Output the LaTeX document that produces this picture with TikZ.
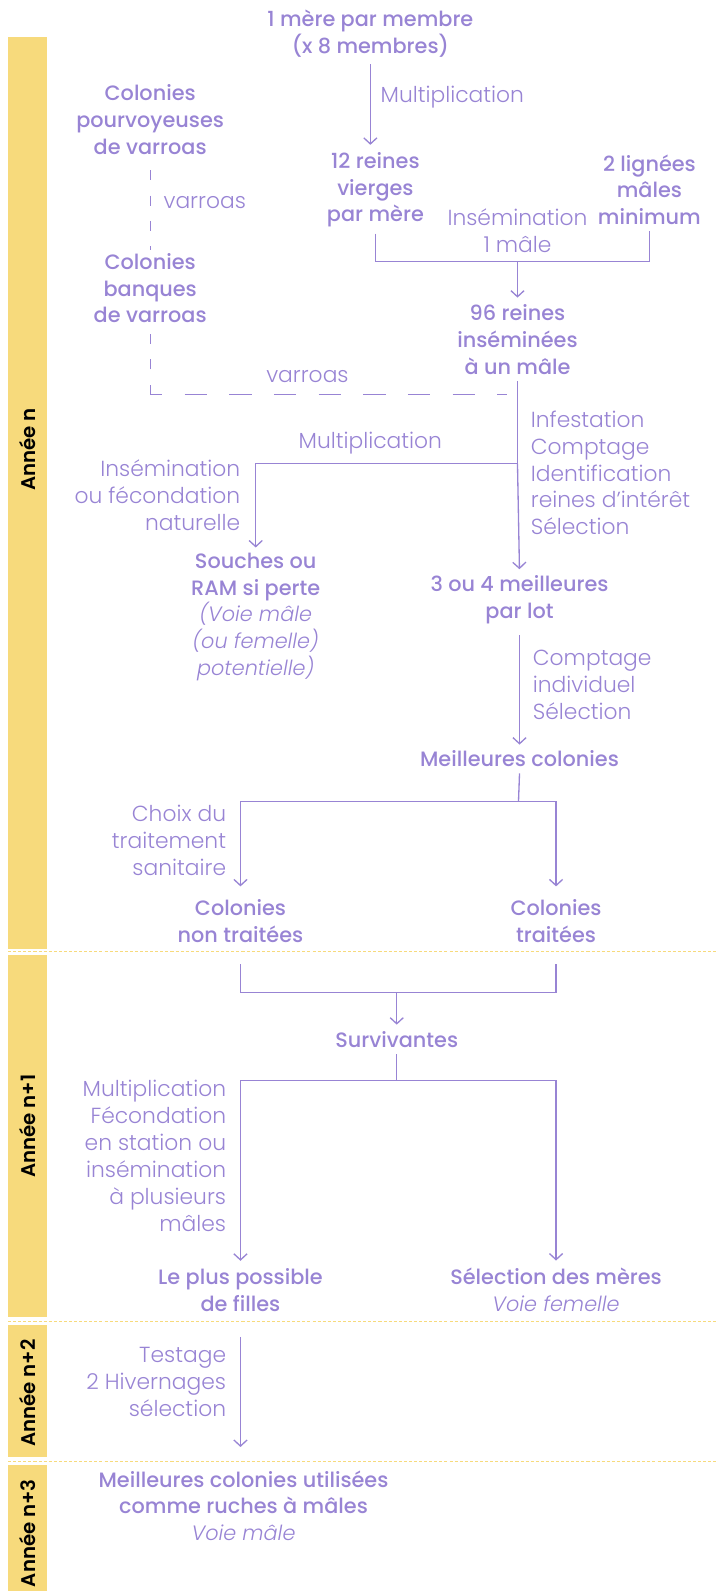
\documentclass[tikz,border=0pt]{standalone}
\usepackage{fontspec}
\setmainfont{Poppins Light}[BoldFont={Poppins Medium},ItalicFont={Poppins Light Italic}]
\newfontfamily\anneefont{Poppins SemiBold}
\usetikzlibrary{arrows.meta}
\definecolor{lila}{RGB}{152,132,212}
\definecolor{miel}{RGB}{247,218,124}
\begin{document}
\begin{tikzpicture}[x=1pt,y=-1pt,
  every node/.style={text=lila, inner sep=3pt, font=\fontsize{21.5}{26.5}\selectfont},
  head/.style={align=center, font=\fontsize{20.5}{26.5}\selectfont\bfseries},
  noteL/.style={align=left, anchor=west},
  noteR/.style={align=right, anchor=east},
  link/.style={draw=lila, line width=1.3pt},
  flow/.style={link, -{Straight Barb[length=6pt,width=13pt,line width=1.3pt]}},
  varroaV/.style={draw=lila, line width=1.3pt, dash pattern=on 10pt off 15pt},
  varroaH/.style={draw=lila, line width=1.3pt, dash pattern=on 22pt off 22pt, dash phase=10pt},
  annee/.style={rotate=90, text=black, font=\fontsize{19.5}{22}\anneefont},
  sep/.style={draw=miel, line width=1pt, dash pattern=on 3pt off 2pt}]
\useasboundingbox (0,0) rectangle (707,1568);
% bandes des annees
\fill[miel] (8,36) rectangle (46,935);
\fill[miel] (8,941) rectangle (46,1298);
\fill[miel] (8,1306) rectangle (46,1436);
\fill[miel] (8,1444) rectangle (46,1568);
\draw[sep] (8,938) -- (707,938);
\draw[sep] (8,1302) -- (707,1302);
\draw[sep] (8,1440) -- (707,1440);
\node[annee] (an0) at (27,443) {Année n};
\node[annee] (an1) at (27,1110) {Année n+1};
\node[annee] (an2) at (27,1373) {Année n+2};
\node[annee] (an3) at (27,1511) {Année n+3};

% noeuds
\node[head] (mere) at (365,33) {1 mère par membre\\(x 8 membres)};
\node[head] (vierges) at (370,187) {12 reines\\vierges\\par mère};
\node[align=center] (insem) at (510,227) {Insémination\\1 mâle};
\node[head] (lignees) at (640,187) {2 lignées\\mâles\\minimum};
\node[head] (pourv) at (148,118) {Colonies\\pourvoyeuses\\de varroas};
\node[head] (banque) at (148,284) {Colonies\\banques\\de varroas};
\node[head] (insem96) at (510,335) {96 reines\\inséminées\\à un mâle};
\node[head] (meil34) at (512,591) {3 ou 4 meilleures\\par lot};
\node[head] (souches) at (252,608) {Souches ou\\RAM si perte\\\normalfont\itshape(Voie mâle\\\normalfont\itshape(ou femelle)\\\normalfont\itshape potentielle)};
\node[head] (meilcol) at (512,748) {Meilleures colonies};
\node[head] (nontr) at (237,908) {Colonies\\non traitées};
\node[head] (traitees) at (548,908) {Colonies\\traitées};
\node[head] (surv) at (391,1025) {Survivantes};
\node[head] (filles) at (237,1271) {Le plus possible\\de filles};
\node[head] (meres) at (548,1271) {Sélection des mères\\\normalfont\itshape Voie femelle};
\node[head] (rucher) at (240,1484) {Meilleures colonies utilisées\\comme ruches à mâles\\\normalfont\itshape Voie mâle};

% etiquettes
\node[noteL] (lmult) at (372,96) {Multiplication};
\node[noteL] (lvar1) at (158,200) {varroas};
\node[] (lvar2) at (303,371) {varroas};
\node[] (lmult2) at (365,437) {Multiplication};
\node[noteL] (linfest) at (520,466) {Infestation\\Comptage\\Identification\\reines d'intérêt\\Sélection};
\node[noteR] (lnat) at (240,488) {Insémination\\ou fécondation\\naturelle};
\node[noteL] (lcompt) at (522,675) {Comptage\\individuel\\Sélection};
\node[noteR] (lchoix) at (226,828) {Choix du\\traitement\\sanitaire};
\node[noteR] (lstat) at (226,1139) {Multiplication\\Fécondation\\en station ou\\insémination\\à plusieurs\\mâles};
\node[noteR] (ltest) at (226,1362) {Testage\\2 Hivernages\\sélection};

% liens
\draw[flow, shorten <=4pt, shorten >=4pt] (mere.south) -- (mere.south |- vierges.north);
\coordinate (jA) at (510,258);
\draw[link] ([yshift=-3pt]vierges.south) |- (jA) -| ([yshift=-3pt]lignees.south);
\draw[flow, shorten >=4pt] (jA) -- (insem96.north);
\coordinate (vc) at (148,389);
\draw[varroaV, shorten <=12pt] (pourv.south) -- (banque.north);
\draw[varroaV] (vc) -- (banque.south);
\draw[varroaH] (vc) -- ([xshift=-10pt]vc -| insem96.south);
\coordinate (jB) at (510,457);
\draw[link] ([yshift=-3pt]insem96.south) -- (jB);
\draw[flow, shorten >=3pt] (jB) -- (meil34.north);
\draw[flow, shorten >=2pt] (jB) -| (souches.north);
\draw[flow, shorten <=8pt, shorten >=3pt] (meil34.south) -- (meil34.south |- meilcol.north);
\coordinate (jC) at (511,790);
\draw[link] ([yshift=-3pt]meilcol.south) -- (jC);
\draw[flow, shorten >=10pt] (jC) -| (nontr.north);
\draw[flow, shorten >=10pt] (jC) -| (traitees.north);
\coordinate (jD) at (391,978);
\draw[link] ([yshift=-18pt]nontr.south) |- (jD) -| ([yshift=-18pt]traitees.south);
\draw[flow, shorten >=4pt] (jD) -- (surv.north);
\coordinate (jE) at (391,1065);
\draw[link] ([yshift=-3pt]surv.south) -- (jE);
\draw[flow, shorten >=4pt] (jE) -| (filles.north);
\draw[flow, shorten >=4pt] (jE) -| (meres.north);
\draw[flow, shorten <=22pt, shorten >=20pt] (filles.south) -- (filles.south |- rucher.north);
\end{tikzpicture}
\end{document}
